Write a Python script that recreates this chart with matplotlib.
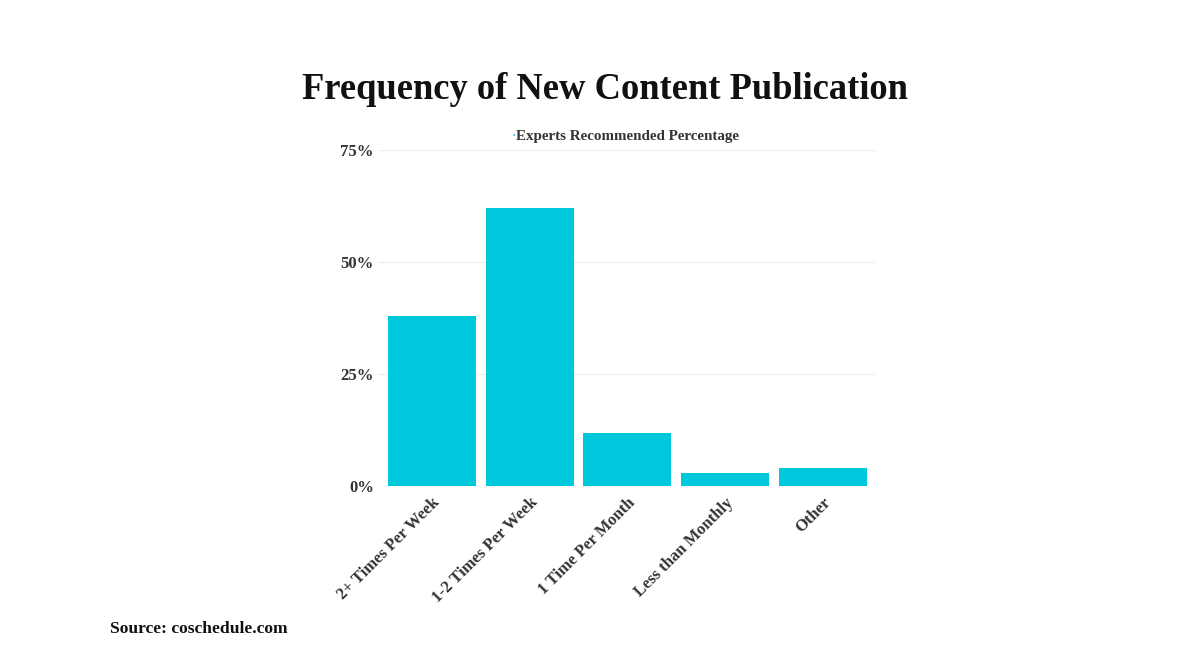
import matplotlib.pyplot as plt
from matplotlib.ticker import FuncFormatter

categories = ["2+ Times Per Week", "1-2 Times Per Week", "1 Time Per Month",
              "Less than Monthly", "Other"]
values = [38, 62, 12, 3, 4]
yticks = [0, 25, 50, 75]
series_name = "Experts Recommended Percentage"

bar_color = "#00C8DC"
text_color = "#333333"
serif = ["Liberation Serif", "DejaVu Serif"]

fig = plt.figure(figsize=(12, 6.69), dpi=100)
ax = fig.add_axes([0.315, 0.273, 0.4155, 0.503])

x = range(len(categories))
ax.bar(x, values, width=0.9, color=bar_color, label=series_name, zorder=2)

ax.set_xlim(-0.55, len(categories) - 0.45)
ax.set_ylim(0, 75)
ax.set_yticks(yticks)
ax.yaxis.set_major_formatter(FuncFormatter(lambda v, p: f"{v:.0f}%"))
ax.grid(axis="y", color="#f0f0f0", linewidth=1, zorder=0)
for s in ax.spines.values():
    s.set_visible(False)
ax.tick_params(length=0)
ax.tick_params(axis="y", pad=3)
ax.tick_params(axis="x", pad=6)

ax.set_xticks(list(x))
ax.set_xticklabels(categories, rotation=45, ha="right", rotation_mode="anchor",
                   family=serif, fontweight="bold", fontsize=12, color=text_color)
for lbl in ax.get_yticklabels():
    lbl.set_family(serif)
    lbl.set_fontweight("bold")
    lbl.set_fontsize(12)
    lbl.set_color(text_color)

fig.text(0.504, 0.866, "Frequency of New Content Publication", ha="center",
         va="center", family=serif, fontweight="bold", fontsize=26.3, color="#111111")
fig.text(0.43, 0.796, "\u00b7", ha="right", va="center", fontsize=10, color=bar_color)
fig.text(0.43, 0.796, series_name, ha="left", va="center", family=serif,
         fontweight="bold", fontsize=10.8, color=text_color)
fig.text(0.092, 0.06, "Source: coschedule.com", ha="left", va="center",
         family=serif, fontweight="bold", fontsize=12.6, color="#111111")

fig.savefig("out.png", dpi=100, facecolor="white")
